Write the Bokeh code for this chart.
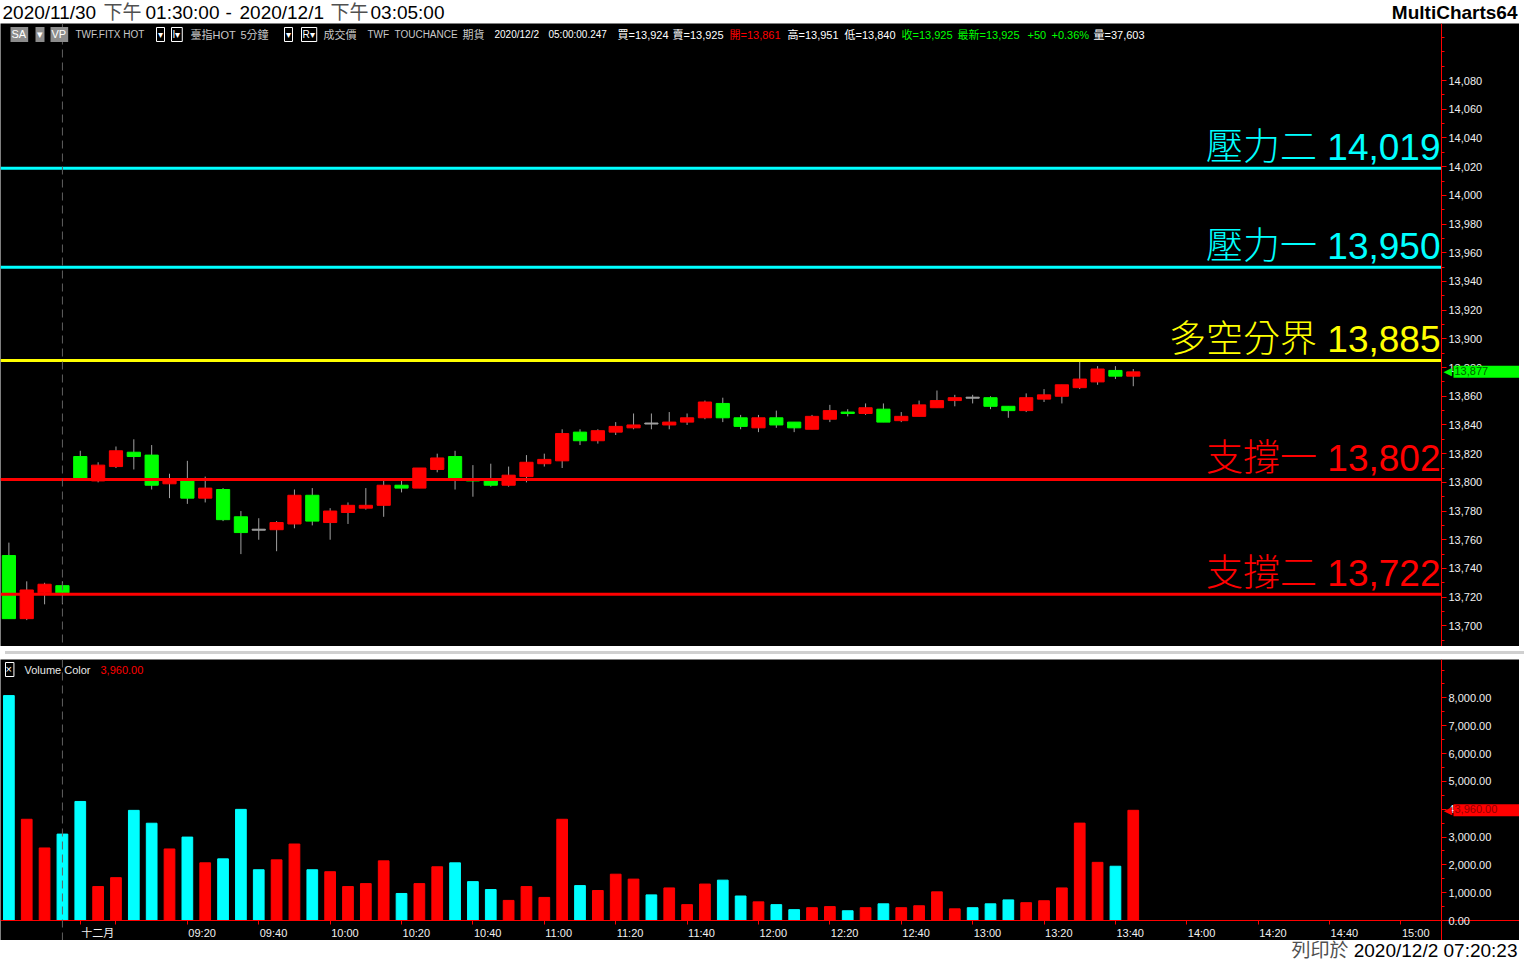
from bokeh.plotting import figure
from bokeh.models import (Span, Label, FixedTicker, NumeralTickFormatter, Range1d,
                          ColumnDataSource, Div, LinearAxis)
from bokeh.layouts import column
from bokeh.embed import file_html
from bokeh.resources import INLINE

# ---------------- data ----------------
bar_index = list(range(64))
opens = [13749, 13705, 13723, 13728, 13818, 13801, 13811, 13821, 13819, 13799,
         13801, 13789, 13795, 13776, 13767, 13767, 13771, 13791, 13772, 13779,
         13782, 13784, 13798, 13796, 13809, 13818, 13802, 13801, 13798, 13804,
         13813, 13815, 13835, 13829, 13835, 13838, 13841, 13840, 13842, 13845,
         13855, 13845, 13838, 13845, 13842, 13837, 13844, 13849, 13848, 13851,
         13843, 13846, 13852, 13857, 13859, 13859, 13853, 13850, 13858, 13860,
         13866, 13870, 13878, 13874]
highs = [13758, 13731, 13730, 13731, 13822, 13814, 13825, 13830, 13826, 13806,
         13815, 13804, 13796, 13780, 13775, 13773, 13795, 13796, 13782, 13786,
         13796, 13801, 13801, 13810, 13820, 13822, 13812, 13813, 13811, 13819,
         13820, 13837, 13837, 13837, 13842, 13848, 13848, 13849, 13848, 13857,
         13859, 13847, 13847, 13850, 13842, 13847, 13854, 13851, 13855, 13855,
         13849, 13857, 13864, 13861, 13861, 13860, 13853, 13862, 13865, 13868,
         13884, 13881, 13881, 13879]
lows = [13705, 13704, 13715, 13715, 13802, 13800, 13810, 13809, 13795, 13789,
        13785, 13786, 13773, 13750, 13760, 13752, 13768, 13770, 13760, 13771,
        13781, 13776, 13793, 13796, 13807, 13795, 13790, 13797, 13797, 13800,
        13811, 13810, 13826, 13827, 13833, 13837, 13837, 13837, 13840, 13844,
        13842, 13837, 13835, 13838, 13835, 13837, 13842, 13846, 13847, 13842,
        13842, 13846, 13852, 13853, 13855, 13851, 13845, 13849, 13856, 13855,
        13865, 13868, 13872, 13867]
closes = [13705, 13725, 13729, 13723, 13803, 13812, 13822, 13818, 13798, 13802,
          13789, 13796, 13774, 13765, 13767, 13772, 13791, 13773, 13780, 13784,
          13784, 13798, 13796, 13810, 13817, 13803, 13801, 13798, 13805, 13814,
          13816, 13834, 13829, 13836, 13839, 13840, 13841, 13842, 13845, 13856,
          13845, 13839, 13845, 13840, 13838, 13846, 13850, 13848, 13852, 13842,
          13846, 13854, 13857, 13859, 13859, 13853, 13850, 13859, 13861, 13868,
          13872, 13879, 13874, 13877]
volumes = [8083, 3638, 2607, 3105, 4278, 1220, 1540, 3958, 3496, 2571,
           2998, 2073, 2215, 3994, 1824, 2180, 2749, 1824, 1753, 1220,
           1326, 2144, 971, 1326, 1931, 2073, 1397, 1113, 722, 1220,
           829, 3638, 1255, 1078, 1664, 1487, 920, 1170, 570, 1310,
           1450, 880, 670, 570, 390, 460, 500, 350, 460, 600,
           460, 530, 1030, 420, 460, 600, 740, 640, 710, 1170,
           3500, 2090, 1950, 3960]

level_values = [14019, 13950, 13885, 13802, 13722]
level_names = ["壓力二", "壓力一", "多空分界", "支撐一", "支撐二"]
level_colors = ["#00FFFF", "#00FFFF", "#FFFF00", "#FF0000", "#FF0000"]

price_ticks = list(range(13700, 14081, 20))
price_minor = list(range(13690, 14120, 10))
volume_ticks = list(range(0, 8001, 1000))
volume_minor = list(range(0, 9001, 500))
time_tick_index = [4, 6, 10, 14, 18, 22, 26, 30, 34, 38, 42, 46, 50, 54, 58, 62, 66, 70, 74, 78]
time_tick_labels = ["十二月", "", "09:20", "09:40", "10:00", "10:20", "10:40", "11:00", "11:20",
                    "11:40", "12:00", "12:20", "12:40", "13:00", "13:20", "13:40", "14:00",
                    "14:20", "14:40", "15:00"]
day_break_index = 3

# ---------------- layout constants ----------------
W = 1519
AX = 78                      # width of the price-scale strip on the right
TH, PH, SH, VH, FH = 23, 623, 3, 281, 20
XB = 20                      # height of the time-axis strip
X0, X1 = -0.47, 80.27        # index range of the plotting area (left of the scale)
XE = X0 + (X1 - X0) * W / (W - AX)   # index value at the right edge of the canvas
P0, P1 = 13685.6, 14119.8
VTOP = 9380.0
VBOT = -XB * VTOP / (VH - XB)
LAT = "Liberation Sans"
MIX = "Liberation Sans, Noto Sans CJK TC"

UP, DOWN, DOJI, WICK = "#FF0000", "#00FF00", "#A0A0A0", "#A0A0A0"

body_top = [max(o, c) for o, c in zip(opens, closes)]
body_bot = [min(o, c) for o, c in zip(opens, closes)]
ccolor = [UP if c > o else (DOWN if c < o else DOJI) for o, c in zip(opens, closes)]
vcolor = ["#FF0000" if c > o else "#00FFFF" for o, c in zip(opens, closes)]

src = ColumnDataSource(dict(x=bar_index, o=opens, h=highs, l=lows, c=closes,
                            vol=volumes, vcolor=vcolor))
body_idx = [i for i in bar_index if opens[i] != closes[i]]
doji_idx = [i for i in bar_index if opens[i] == closes[i]]
body_src = ColumnDataSource(dict(x=body_idx, top=[body_top[i] for i in body_idx],
                                 bot=[body_bot[i] for i in body_idx],
                                 color=[ccolor[i] for i in body_idx]))
doji_src = ColumnDataSource(dict(x=doji_idx, y=[opens[i] for i in doji_idx]))
lvl_src = ColumnDataSource(dict(x0=[X0] * len(level_values), x1=[X1] * len(level_values),
                                y=level_values, color=level_colors))


def style_axis(ax):
    ax.axis_line_color = "#FF0000"
    ax.major_tick_line_color = "#FF0000"
    ax.major_tick_in = 0
    ax.minor_tick_line_color = "#FF0000"
    ax.minor_tick_in = 0
    ax.major_label_text_color = "#F0F0F0"
    ax.major_label_text_font = LAT
    ax.major_label_text_font_size = "11px"


def price_scale(ticks, minor, fmt):
    ax = LinearAxis(fixed_location=X1, ticker=FixedTicker(ticks=ticks, minor_ticks=minor),
                    formatter=NumeralTickFormatter(format=fmt))
    style_axis(ax)
    ax.major_tick_out = 5
    ax.minor_tick_out = 3
    ax.major_label_standoff = 2
    return ax


def dark_fig(h, yr):
    f = figure(width=W, height=h, x_range=Range1d(X0, XE), y_range=yr,
               x_axis_location=None, y_axis_location=None,
               output_backend="svg", toolbar_location=None, min_border=0,
               background_fill_color="black", border_fill_color="black",
               outline_line_color=None)
    f.grid.visible = False
    return f


def white_fig(h):
    f = figure(width=W, height=h, x_range=Range1d(0, W), y_range=Range1d(0, h),
               x_axis_location=None, y_axis_location=None, output_backend="svg",
               toolbar_location=None, min_border=0, background_fill_color="white",
               border_fill_color="white", outline_line_color=None)
    f.grid.visible = False
    return f


def marker(fig, y, text, box_color, text_color, pad_right):
    fig.add_layout(Label(x=X1, y=y, text=text, text_color=text_color,
                         text_font=LAT, text_font_size="11px", text_baseline="middle",
                         background_fill_color=box_color, padding=(1, pad_right, 1, 3),
                         x_offset=12))
    fig.add_layout(Label(x=X1, y=y, text="◀", text_color=box_color, text_font="DejaVu Sans",
                         text_font_size="11px", text_baseline="middle", x_offset=2))

# ---------------- title strip ----------------
t = white_fig(TH)
title_parts = [(2, "2020/11/30", "#000000"), (103, "下午", "#505050"), (145, "01:30:00", "#000000"),
               (225, "-", "#000000"), (239, "2020/12/1", "#000000"), (330, "下午", "#505050"),
               (370, "03:05:00", "#000000")]
for x, s, col in title_parts:
    t.add_layout(Label(x=x, y=TH / 2, text=s, text_color=col, text_font=MIX,
                       text_font_size="19px", text_baseline="middle"))
t.add_layout(Label(x=W - 2, y=TH / 2, text="MultiCharts64", text_color="#000000", text_font=LAT,
                   text_font_size="19px", text_font_style="bold", text_align="right",
                   text_baseline="middle"))

# ---------------- price panel ----------------
p = dark_fig(PH, Range1d(P0, P1))
p.add_layout(price_scale(price_ticks, price_minor, "0,0"), "right")

p.add_layout(Span(location=day_break_index, dimension="height", line_color="#606060",
                  line_dash="8 5", line_width=1))
p.segment(x0="x", y0="l", x1="x", y1="h", source=src, line_color=WICK, line_width=1)
p.vbar(x="x", width=0.74, top="top", bottom="bot", source=body_src,
       fill_color="color", line_color="color", line_width=1)
p.rect(x="x", y="y", width=0.74, height=1, height_units="screen", source=doji_src,
       fill_color=DOJI, line_color=DOJI)
p.segment(x0="x0", x1="x1", y0="y", y1="y", source=lvl_src, line_color="color", line_width=3)

for lv, nm, col in zip(level_values, level_names, level_colors):
    p.add_layout(Label(x=X1, y=lv, text=f"{nm} {lv:,}", text_color=col,
                       text_font="Liberation Sans, Noto Sans CJK TC Light, Noto Sans CJK TC",
                       text_font_size="37px", text_align="right", text_baseline="middle",
                       x_offset=-1, y_offset=21))

hdr_y = PH - 11
hdr = [
    (10, "SA", "#FFFFFF", "#8C8C8C", None, "11px"),
    (35, "▾", "#FFFFFF", "#8C8C8C", None, "11px"),
    (50, "VP", "#FFFFFF", "#8C8C8C", None, "11px"),
    (75, "TWF.FITX HOT", "#C8C8C8", None, None, "10px"),
    (156, "▾", "#FFFFFF", None, "#FFFFFF", "10px"),
    (171, "I▾", "#FFFFFF", None, "#FFFFFF", "10px"),
    (190, "臺指HOT", "#C8C8C8", None, None, "11px"),
    (240, "5分鐘", "#C8C8C8", None, None, "11px"),
    (284, "▾", "#FFFFFF", None, "#FFFFFF", "10px"),
    (301, "R▾", "#FFFFFF", None, "#FFFFFF", "10px"),
    (323, "成交價", "#C8C8C8", None, None, "11px"),
    (367, "TWF", "#C8C8C8", None, None, "10px"),
    (394, "TOUCHANCE", "#C8C8C8", None, None, "10px"),
    (462, "期貨", "#C8C8C8", None, None, "11px"),
    (494, "2020/12/2", "#FFFFFF", None, None, "10px"),
    (548, "05:00:00.247", "#FFFFFF", None, None, "10px"),
    (617, "買=13,924", "#FFFFFF", None, None, "11px"),
    (672, "賣=13,925", "#FFFFFF", None, None, "11px"),
    (729, "開=13,861", "#FF0000", None, None, "11px"),
    (787, "高=13,951", "#FFFFFF", None, None, "11px"),
    (844, "低=13,840", "#FFFFFF", None, None, "11px"),
    (901, "收=13,925", "#00FF00", None, None, "11px"),
    (957, "最新=13,925", "#00FF00", None, None, "11px"),
    (1027, "+50", "#00FF00", None, None, "11px"),
    (1051, "+0.36%", "#00FF00", None, None, "11px"),
    (1093, "量=37,603", "#FFFFFF", None, None, "11px"),
]
for x, s, col, bg, bd, fs in hdr:
    kw = {}
    if bg:
        kw["background_fill_color"] = bg
    if bd:
        kw["border_line_color"] = bd
    p.add_layout(Label(x=x, y=hdr_y, x_units="screen", y_units="screen", text=s,
                       text_color=col, text_font=MIX, text_font_size=fs,
                       text_baseline="middle", padding=(1, 2, 1, 2) if (bg or bd) else 0, **kw))

marker(p, closes[-1], f"{closes[-1]:,}", "#00FF00", "#006000", 34)

# ---------------- separator ----------------
sep = Div(width=W, height=SH, styles={"background-color": "#D0D0D0"})

# ---------------- volume panel ----------------
v = dark_fig(VH, Range1d(VBOT, VTOP))
v.x_range = p.x_range
v.add_layout(price_scale(volume_ticks, volume_minor, "0,0.00"), "right")

xa = LinearAxis(fixed_location=0, ticker=FixedTicker(ticks=time_tick_index, minor_ticks=[]))
style_axis(xa)
xa.major_label_overrides = {i: "" for i in time_tick_index}
xa.major_label_text_font_size = "1px"
xa.major_tick_out = 4
xa.minor_tick_line_color = None
v.add_layout(xa, "below")

v.add_layout(Span(location=day_break_index, dimension="height", line_color="#606060",
                  line_dash="8 5", line_width=1))
v.vbar(x="x", width=0.6, top="vol", bottom=0, source=src, fill_color="vcolor", line_color="vcolor")

for i, s in zip(time_tick_index, time_tick_labels):
    if s:
        v.add_layout(Label(x=i, y=0, text=s, text_color="#F0F0F0",
                           text_font=MIX, text_font_size="11px", text_baseline="middle",
                           x_offset=1, y_offset=-12))

vh_y = VH - 10
v.add_layout(Label(x=5, y=vh_y, x_units="screen", y_units="screen", text="×", text_color="#FFFFFF",
                   text_font=LAT, text_font_size="11px", text_baseline="middle",
                   border_line_color="#FFFFFF", padding=(0, 2, 0, 2)))
v.add_layout(Label(x=24, y=vh_y, x_units="screen", y_units="screen", text="Volume Color",
                   text_color="#E8E8E8", text_font=LAT, text_font_size="11px", text_baseline="middle"))
v.add_layout(Label(x=100, y=vh_y, x_units="screen", y_units="screen", text=f"{volumes[-1]:,.2f}",
                   text_color="#FF0000", text_font=LAT, text_font_size="11px", text_baseline="middle"))

marker(v, volumes[-1], f"{volumes[-1]:,.2f}", "#FF0000", "#900000", 24)

# ---------------- footer ----------------
f = white_fig(FH)
f.add_layout(Label(x=W - 2, y=FH / 2, text="2020/12/2 07:20:23", text_color="#000000", text_font=LAT,
                   text_font_size="19px", text_align="right", text_baseline="middle"))
f.add_layout(Label(x=W - 171, y=FH / 2, text="列印於", text_color="#505050", text_font=MIX,
                   text_font_size="19px", text_align="right", text_baseline="middle"))

layout = column(t, p, sep, v, f, spacing=0)
open("out.html", "w").write(file_html(layout, INLINE))
